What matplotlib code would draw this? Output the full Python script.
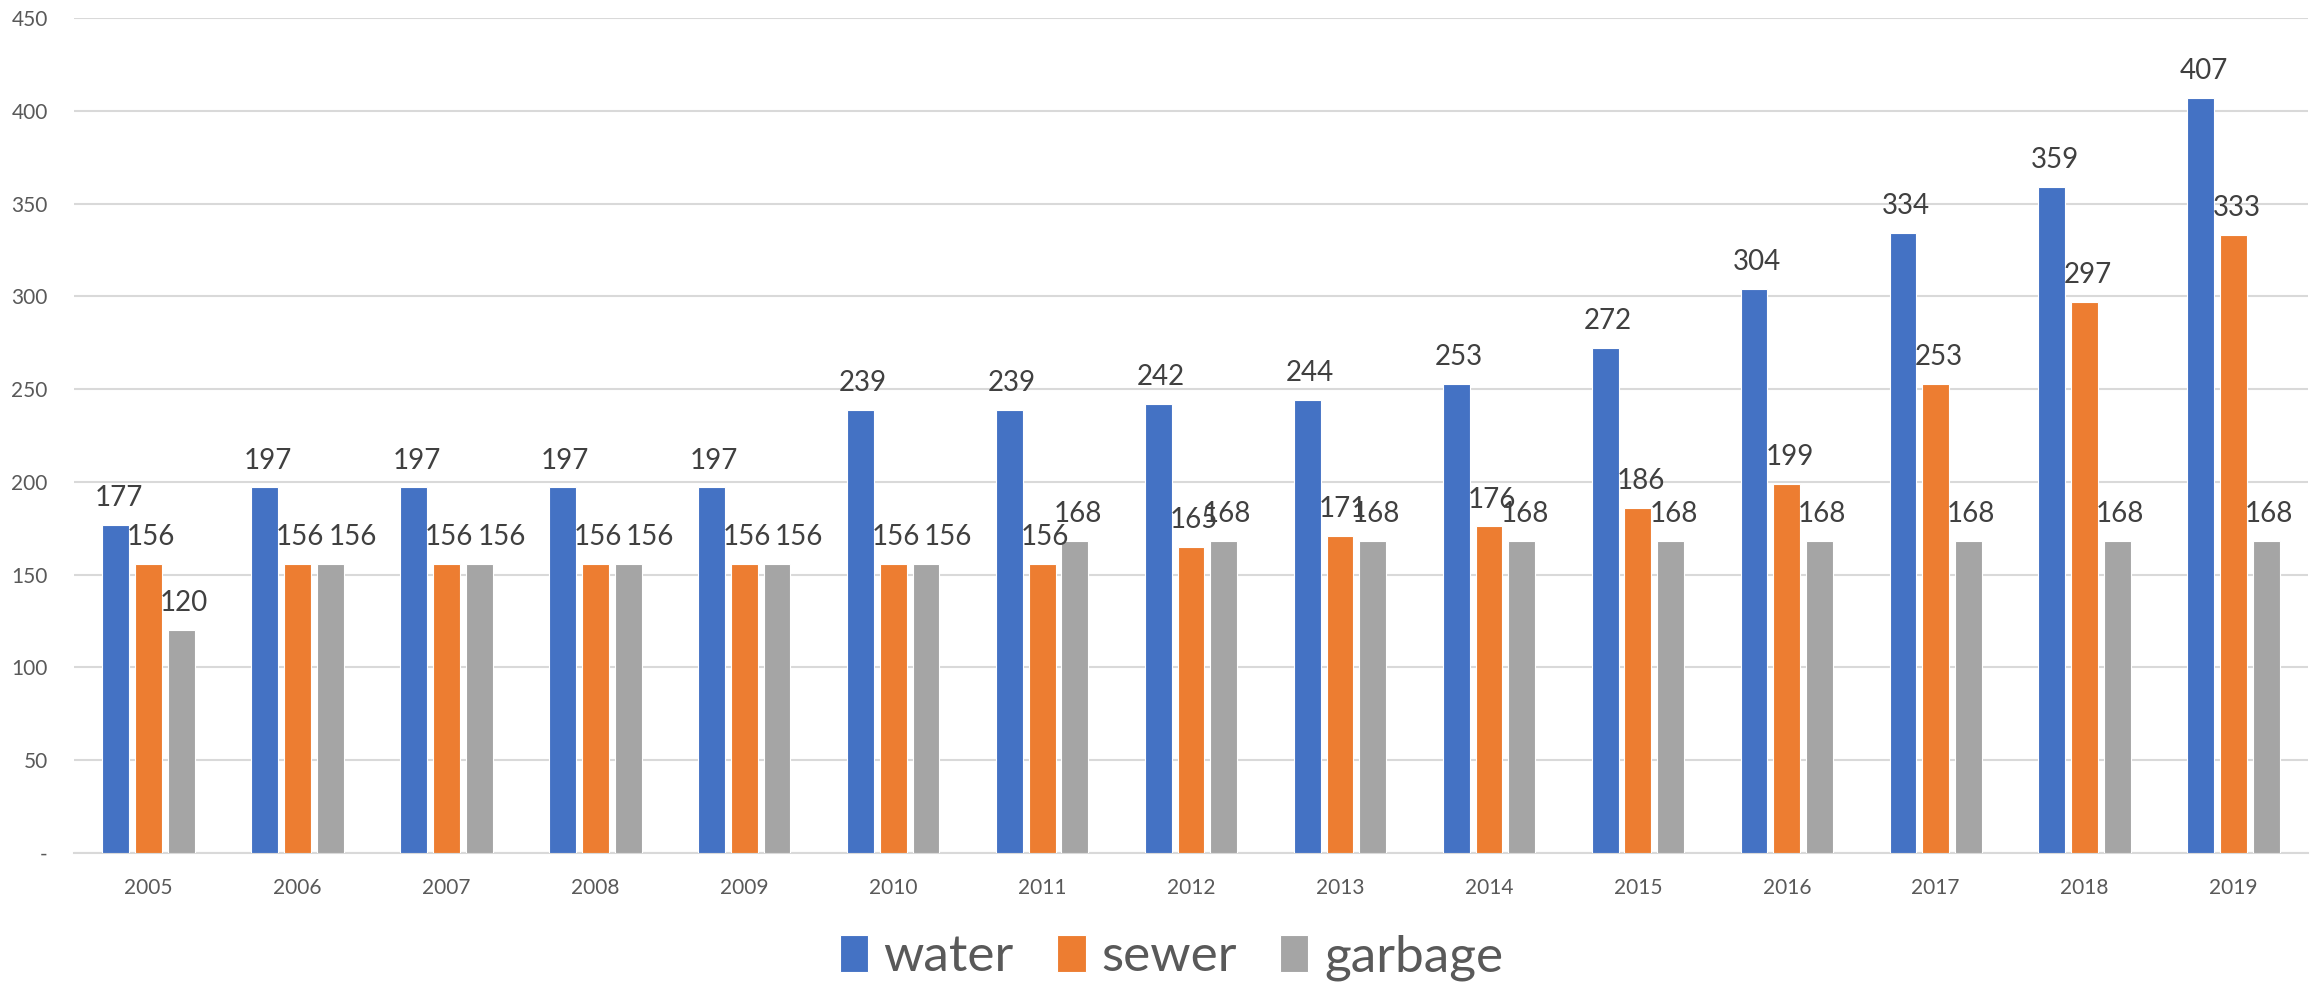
import matplotlib
matplotlib.use("Agg")
from matplotlib import pyplot as plt
import numpy as np

years = ["2005", "2006", "2007", "2008", "2009", "2010", "2011", "2012",
         "2013", "2014", "2015", "2016", "2017", "2018", "2019"]
water = [177, 197, 197, 197, 197, 239, 239, 242, 244, 253, 272, 304, 334, 359, 407]
sewer = [156, 156, 156, 156, 156, 156, 156, 165, 171, 176, 186, 199, 253, 297, 333]
garbage = [120, 156, 156, 156, 156, 156, 168, 168, 168, 168, 168, 168, 168, 168, 168]

series = [("water", water, "#4472C4"),
          ("sewer", sewer, "#ED7D31"),
          ("garbage", garbage, "#A5A5A5")]

label_font = ["Lato", "DejaVu Sans"]

fig = plt.figure(figsize=(23.15, 9.83), dpi=100)
ax = fig.add_axes([0.032, 0.1322, 0.965, 0.8495])

x = np.arange(len(years))
w = 0.18
step = 0.22
for i, (name, vals, col) in enumerate(series):
    pos = x + (i - 1) * step
    ax.bar(pos, vals, width=w, color=col, edgecolor="white", linewidth=0.8,
           label=name, zorder=3)
    for j, (xp, v) in enumerate(zip(pos, vals)):
        dx = 2
        # push the garbage label aside when it sits level with the sewer one
        if name == "garbage" and v == sewer[j]:
            dx = 16
        ax.annotate(str(v), (xp, v), xytext=(dx, 10), textcoords="offset points",
                    ha="center", va="bottom", fontsize=20, color="#404040",
                    family=label_font, zorder=4)

ax.set_xlim(-0.5, len(years) - 0.5)
ax.set_ylim(0, 450)
ax.set_yticks(np.arange(0, 451, 50))
ax.set_yticklabels(["-"] + [str(v) for v in range(50, 451, 50)])
ax.set_xticks(x)
ax.set_xticklabels(years)
ax.tick_params(axis="both", length=0, labelsize=15, colors="#595959")
for t in ax.get_xticklabels() + ax.get_yticklabels():
    t.set_family(label_font)
ax.tick_params(axis="y", pad=19)
ax.tick_params(axis="x", pad=18)
ax.grid(axis="y", color="#D9D9D9", linewidth=1.5, zorder=0)
for s in ["top", "right", "left"]:
    ax.spines[s].set_visible(False)
ax.spines["bottom"].set_color("#D9D9D9")
ax.spines["bottom"].set_linewidth(1.5)

leg = fig.legend(loc="center", bbox_to_anchor=(0.506, 0.026), ncol=3, frameon=False,
                 prop={"family": label_font, "size": 37},
                 handlelength=0.55, handleheight=0.72, handletextpad=0.3,
                 columnspacing=0.85)
for t in leg.get_texts():
    t.set_color("#595959")

fig.savefig("out.png", dpi=100)
